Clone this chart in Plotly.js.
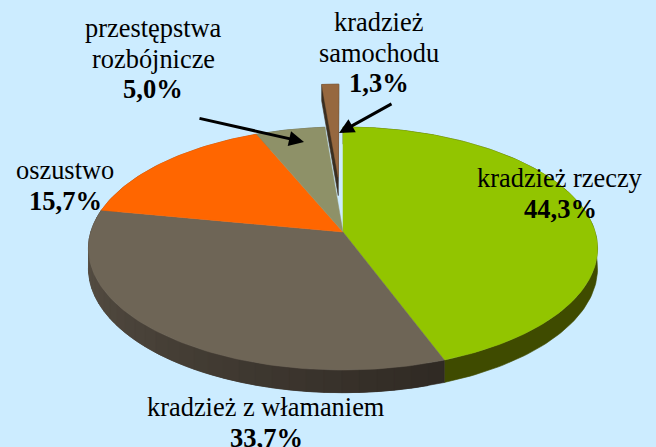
<!DOCTYPE html>
<html><head><meta charset="utf-8">
<script src="https://cdn.plot.ly/plotly-3.0.1.min.js"></script>
<style>html,body{margin:0;padding:0;background:#CCECFF;overflow:hidden}</style>
</head><body><div id="chart" style="width:656px;height:447px"></div>
<script>
const categories = ['kradzież rzeczy','kradzież z włamaniem','oszustwo','przestępstwa rozbójnicze','kradzież samochodu'];
const shares = [44.3,33.7,15.7,5.0,1.3];
const labelLines = [['kradzież rzeczy'],['kradzież z włamaniem'],['oszustwo'],['przestępstwa','rozbójnicze'],['kradzież','samochodu']];
const faceColors = ['#92C500','#6E6556','#FF6600','#8E9168','#96683F'];
const wallStart = ['#3F4B00','#302A24','#A04000','#55573E','#3A2E20'];
const wallEnd = ['#3F4B00','#5E564A','#A04000','#55573E','#3A2E20'];
const pulls = [0,0,0,0,0.49];
const labelX = [560,266,65,153,378.5];
const labelY = [178,407,170,28,22];

// view of the tilted disc
const cx=343, cy=232, A=252.2, B=119.3, K=0.1358, frontDepth=19.6, lineGap=30.5;
function project(u,v){const d=1+K*v;return [cx+A*u/d, cy-B*v/d, frontDepth/d];}
function hex(c){return [1,3,5].map(i=>parseInt(c.substr(i,2),16));}
function mix(a,b,t){const p=hex(a),q=hex(b);return 'rgb('+p.map((x,i)=>Math.round(x+(q[i]-x)*t)).join(',')+')';}
function poly(pts,color,w){const c=pts.concat([pts[0]]);return {type:'scatter',mode:'lines',x:c.map(p=>p[0]),y:c.map(p=>p[1]),
  fill:'toself',fillcolor:color,line:{color:color,width:w===undefined?0.6:w},hoverinfo:'skip',showlegend:false};}
const drop=p=>[p[0],p[1]+p[2]];

const total=shares.reduce((a,b)=>a+b,0);
const walls=[],faces=[];
let acc=0;
shares.forEach((s,i)=>{
  const a0=acc/total*2*Math.PI, a1=(acc+s)/total*2*Math.PI, mid=(a0+a1)/2; acc+=s;
  const ox=pulls[i]*Math.sin(mid), oy=pulls[i]*Math.cos(mid);
  const rim=a=>project(ox+Math.sin(a),oy+Math.cos(a));
  const n=Math.max(3,Math.round((a1-a0)/0.02));
  const arc=[];for(let k=0;k<=n;k++)arc.push(rim(a0+(a1-a0)*k/n));
  const apex=project(ox,oy);
  if(pulls[i]>0){
    walls.push(poly([...arc,drop(arc[n]),drop(apex),drop(arc[0])],wallStart[i]));
  } else {
    const strips=wallStart[i]===wallEnd[i]?1:Math.max(1,Math.round(n/3));
    for(let j=0;j<strips;j++){
      const b0=a0+(a1-a0)*j/strips,b1=a0+(a1-a0)*Math.min(j+2,strips)/strips;
      const m=Math.max(4,Math.round((b1-b0)/0.02));
      const top=[];for(let k=0;k<=m;k++)top.push(rim(b0+(b1-b0)*k/m));
      const bot=top.slice().reverse().map(drop);
      walls.push(poly(top.concat(bot),mix(wallStart[i],wallEnd[i],j/strips)));
    }
  }
  faces.push(poly([apex,...arc],faceColors[i],0.5));
});

const fmt=v=>v.toFixed(1).replace('.',',')+'%';
const serif='"Liberation Serif","Times New Roman",serif';
const notes=[];
shares.forEach((s,i)=>{
  const note=(t,y,size)=>notes.push({x:labelX[i],y:y,xref:'x',yref:'y',showarrow:false,text:t,
    xanchor:'center',yanchor:'middle',font:{family:serif,size:size,color:'#000'}});
  labelLines[i].forEach((t,j)=>note(t,labelY[i]+j*lineGap,26.4));
  note('<b>'+fmt(s)+'</b>',labelY[i]+labelLines[i].length*lineGap,26.5);
});
const arrow=(x0,y0,x1,y1)=>({x:x1,y:y1,ax:x0,ay:y0,xref:'x',yref:'y',axref:'x',ayref:'y',text:'',
  showarrow:true,arrowhead:2,arrowsize:1,arrowwidth:3,arrowcolor:'#000'});
notes.push(arrow(198,118,304,142),arrow(393,103,339,133));

Plotly.newPlot('chart',walls.concat(faces),{
  width:656,height:447,margin:{l:0,r:0,t:0,b:0},showlegend:false,
  paper_bgcolor:'#CCECFF',plot_bgcolor:'#CCECFF',
  xaxis:{range:[0,656],visible:false,fixedrange:true},
  yaxis:{range:[447,0],visible:false,fixedrange:true},
  annotations:notes
},{displayModeBar:false,staticPlot:true});
</script></body></html>
